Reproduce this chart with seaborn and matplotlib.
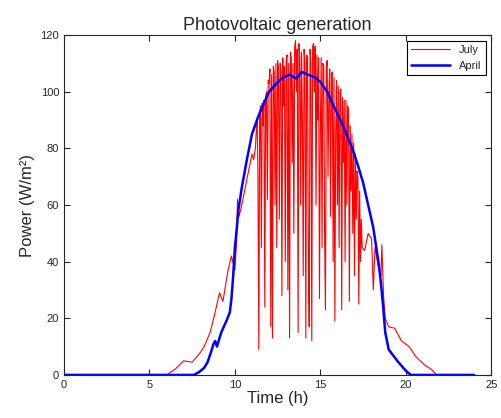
import numpy as np
import pandas as pd
import matplotlib
matplotlib.use("Agg")
import matplotlib.pyplot as plt
import seaborn as sns

# Set seaborn style (MATLAB-like look)
sns.set_style("ticks")
plt.rcParams['font.family'] = ['Liberation Sans', 'DejaVu Sans']

# April: smooth clear-sky profile
time_april = [0, 7.6, 7.9, 8.2, 8.4, 8.6, 8.75, 8.85, 8.95, 9.2, 9.5, 9.7, 9.8, 9.9,
              10.0, 10.1, 10.2, 10.4, 10.7, 11.0, 11.35, 11.7, 12.0, 12.45, 12.8,
              13.2, 13.6, 13.9, 14.3, 14.7, 15.0, 15.4, 15.7, 16.1, 16.5, 16.9,
              17.2, 17.5, 17.8, 18.1, 18.4, 18.5, 18.65, 18.8, 19.0, 19.5, 20.0,
              20.3, 24]
power_april = [0, 0, 1, 2.5, 4.5, 8, 11, 12, 10, 15, 19, 22, 27, 35,
               45, 51, 58, 66, 76, 85, 91, 96, 100, 103, 105,
               106, 104.6, 107, 106, 105, 103.5, 100, 96, 91, 85.5, 79.5,
               74, 68, 60, 52, 40, 35, 26, 15, 9, 5, 1.5,
               0, 0]

# July: cloudy day with strong fluctuations around noon
time_july_morning = [0, 6.0, 6.5, 7.0, 7.5, 7.95, 8.2, 8.55, 8.8, 9.1, 9.3, 9.6, 9.8,
                     10.0, 10.1, 10.15, 10.25, 10.4, 10.6, 10.8, 11.0, 11.1]
power_july_morning = [0, 0, 2, 5, 4.5, 7.7, 10, 15, 21, 29, 26, 37, 42,
                      37, 47, 62, 56, 60, 66, 72, 78, 76]

time_july_noon = [round(11.2 + 0.05 * i, 2) for i in range(126)]
power_july_noon = [
    80, 86, 90, 70, 9, 92, 95, 45, 96, 88,
    97, 24, 98, 100, 62, 104, 103, 108, 17, 106,
    13, 109, 107, 60, 110, 45, 111, 108, 55, 110,
    107, 28, 112, 95, 109, 40, 111, 113, 30, 110,
    13, 114, 112, 75, 110, 50, 116, 118, 100, 115,
    15, 117, 112, 60, 114, 90, 35, 115, 110, 13,
    113, 112, 40, 17, 115, 110, 12, 116, 117, 100,
    116, 60, 113, 90, 112, 27, 85, 112, 45, 110,
    109, 50, 23, 108, 111, 70, 100, 108, 56, 106,
    107, 40, 105, 19, 86, 104, 60, 102, 45, 100,
    101, 23, 98, 75, 97, 40, 97, 60, 95, 93,
    26, 88, 65, 85, 50, 82, 35, 78, 55, 72,
    70, 25, 65, 40, 55, 45,
]

time_july_evening = [17.6, 17.8, 18.0, 18.1, 18.2, 18.4, 18.55, 18.6, 18.7, 18.8,
                     19.0, 19.35, 19.75, 20.2, 20.6, 21.1, 21.5, 21.8, 24]
power_july_evening = [44, 50, 48, 30, 45, 38, 35, 46, 28, 20,
                      17, 16.5, 12, 10, 6.4, 3.5, 2, 0, 0]

time_july = time_july_morning + time_july_noon + time_july_evening
power_july = power_july_morning + power_july_noon + power_july_evening

df_july = pd.DataFrame({'Time': time_july, 'Power': power_july})
df_april = pd.DataFrame({'Time': time_april, 'Power': power_april})

fig = plt.figure(figsize=(5.02, 4.18), dpi=100)
ax = fig.add_axes([0.1275, 0.103, 0.851, 0.813])

sns.lineplot(data=df_july, x='Time', y='Power', color='red', linewidth=0.8,
             label='July', ax=ax, estimator=None, sort=False)
sns.lineplot(data=df_april, x='Time', y='Power', color='blue', linewidth=1.8,
             label='April', ax=ax, estimator=None, sort=False)

ax.set_xlim(0, 25)
ax.set_ylim(0, 120)
ax.set_xticks([0, 5, 10, 15, 20, 25])
ax.set_yticks(np.arange(0, 121, 20))
ax.tick_params(direction='in', top=True, right=True, labelsize=8, length=4)
for s in ax.spines.values():
    s.set_visible(True)
    s.set_linewidth(0.8)

ax.set_title('Photovoltaic generation', fontsize=13, pad=4)
ax.set_xlabel('Time (h)', fontsize=12, labelpad=1)
ax.set_ylabel('Power (W/m²)', fontsize=12, labelpad=4)

leg = ax.legend(loc='upper right', fontsize=8, fancybox=False, framealpha=1,
                edgecolor='black', handlelength=3.5, borderpad=0.4)
leg.get_frame().set_linewidth(0.8)

fig.savefig('out.png', dpi=100)
